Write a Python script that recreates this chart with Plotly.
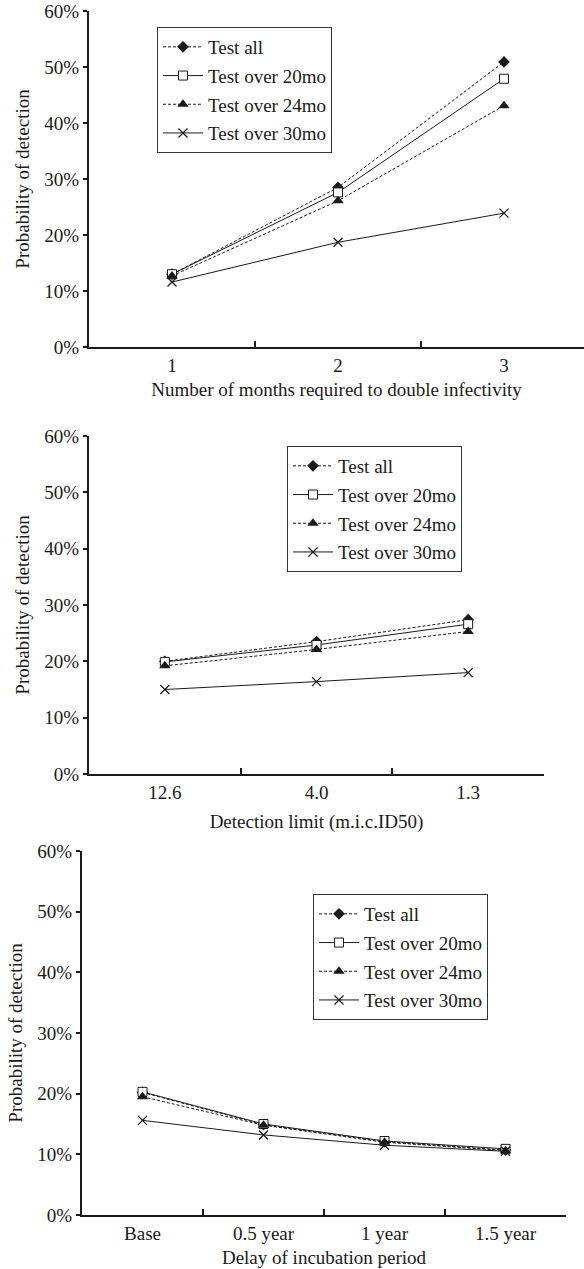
import plotly.graph_objects as go

# ---------------- data ----------------
series_names = ["Test all", "Test over 20mo", "Test over 24mo", "Test over 30mo"]

p1_categories = ["1", "2", "3"]
p1_test_all = [0.130, 0.285, 0.509]
p1_over20 = [0.130, 0.276, 0.479]
p1_over24 = [0.127, 0.261, 0.431]
p1_over30 = [0.116, 0.187, 0.239]

p2_categories = ["12.6", "4.0", "1.3"]
p2_test_all = [0.200, 0.235, 0.274]
p2_over20 = [0.199, 0.229, 0.266]
p2_over24 = [0.192, 0.221, 0.253]
p2_over30 = [0.150, 0.164, 0.180]

p3_categories = ["Base", "0.5 year", "1 year", "1.5 year"]
p3_test_all = [0.202, 0.149, 0.121, 0.107]
p3_over20 = [0.203, 0.150, 0.122, 0.109]
p3_over24 = [0.195, 0.148, 0.120, 0.106]
p3_over30 = [0.156, 0.132, 0.115, 0.105]

y_ticks = [0, 0.1, 0.2, 0.3, 0.4, 0.5, 0.6]
y_title = "Probability of detection"
x_titles = ["Number of months required to double infectivity",
            "Detection limit (m.i.c.ID50)",
            "Delay of incubation period"]

# ---------------- style ----------------
FONT = "Liberation Serif, Times New Roman, serif"
INK = "#1a1a1a"
FS = 19
W, H = 584, 1269

styles = [
    dict(line=dict(color=INK, width=1, dash="3px,2px"),
         marker=dict(symbol="diamond", size=9, color=INK, line=dict(width=0))),
    dict(line=dict(color=INK, width=1, dash="solid"),
         marker=dict(symbol="square", size=9, color="white", line=dict(color=INK, width=1))),
    dict(line=dict(color=INK, width=1, dash="3px,2px"),
         marker=dict(symbol="triangle-up", size=10, color=INK, line=dict(width=0))),
    dict(line=dict(color=INK, width=1, dash="solid"),
         marker=dict(symbol="x-thin", size=9, color=INK, line=dict(color=INK, width=1.3))),
]

panels = [
    dict(cats=p1_categories, vals=[p1_test_all, p1_over20, p1_over24, p1_over30],
         px_x=(89, 584), px_y=(11, 347), xr=[-0.5, 2.482], leg=(157, 27), xstand=8),
    dict(cats=p2_categories, vals=[p2_test_all, p2_over20, p2_over24, p2_over30],
         px_x=(89, 544), px_y=(436, 774), xr=[-0.5, 2.5], leg=(287, 446), xstand=13),
    dict(cats=p3_categories, vals=[p3_test_all, p3_over20, p3_over24, p3_over30],
         px_x=(82, 566), px_y=(851, 1215), xr=[-0.5, 3.5], leg=(313, 894), xstand=8),
]

fig = go.Figure()
layout = dict(
    width=W, height=H,
    margin=dict(l=0, r=0, t=0, b=0),
    paper_bgcolor="white", plot_bgcolor="white",
    font=dict(family=FONT, size=FS, color=INK),
    showlegend=True,
)

for i, p in enumerate(panels):
    n = "" if i == 0 else str(i + 1)
    xa, ya, lg = "x" + n, "y" + n, "legend" + n
    for j, name in enumerate(series_names):
        fig.add_trace(go.Scatter(
            x=p["cats"], y=p["vals"][j], name=name, mode="lines+markers",
            xaxis=xa, yaxis=ya, legend=lg, legendgroup=f"g{i}_{j}",
            line=styles[j]["line"], marker=styles[j]["marker"],
            cliponaxis=False,
        ))
    x0, x1 = p["px_x"]
    t, b = p["px_y"]
    layout["xaxis" + n] = dict(
        domain=[x0 / W, x1 / W], anchor=ya, type="category",
        categoryorder="array", categoryarray=p["cats"],
        range=p["xr"], showgrid=False, zeroline=False,
        showline=True, linecolor=INK, linewidth=2,
        ticks="inside", tickson="boundaries", ticklen=6, tickwidth=2, tickcolor=INK,
        tickfont=dict(family=FONT, size=FS, color=INK),
        title=dict(text=x_titles[i], font=dict(family=FONT, size=FS, color=INK),
                   standoff=p["xstand"]),
        automargin=False,
    )
    layout["yaxis" + n] = dict(
        domain=[1 - b / H, 1 - t / H], anchor=xa,
        range=[0, 0.6], tickvals=y_ticks, tickformat=".0%",
        showgrid=False, zeroline=False,
        showline=True, linecolor=INK, linewidth=2,
        ticks="outside", ticklen=4, tickwidth=1.5, tickcolor=INK,
        tickfont=dict(family=FONT, size=FS, color=INK),
        title=dict(text=y_title, font=dict(family=FONT, size=FS, color=INK), standoff=10),
        automargin=False,
    )
    lx, ly = p["leg"]
    layout[lg] = dict(
        x=lx / W, y=1 - ly / H, xanchor="left", yanchor="top",
        bgcolor="white", bordercolor="#333", borderwidth=1,
        font=dict(family=FONT, size=FS, color=INK),
        traceorder="grouped", tracegroupgap=1,
        itemwidth=40,
    )

fig.update_layout(**layout)
fig.write_html("out.html", config={"displayModeBar": False},
               post_script="document.body.style.margin='0px';")
